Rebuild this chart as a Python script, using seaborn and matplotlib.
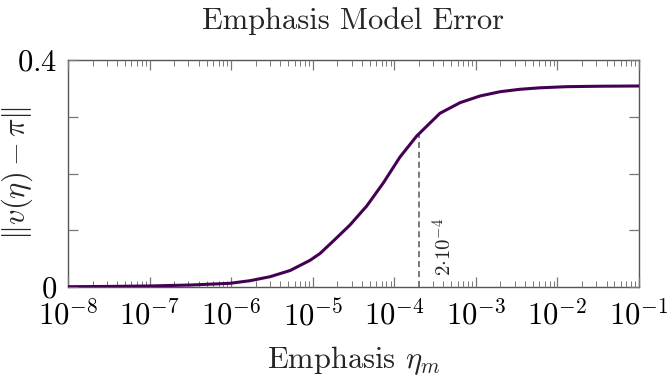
import numpy as np
import pandas as pd
import matplotlib
matplotlib.use("Agg")
import matplotlib.pyplot as plt
import seaborn as sns
from matplotlib.ticker import LogLocator, FixedLocator, NullFormatter

# Data (log10 of emphasis, error value)
log_eta = [-8.0, -7.5, -7.0, -6.5, -6.014, -5.769, -5.524, -5.278, -5.033, -4.911,
           -4.748, -4.543, -4.338, -4.135, -3.930, -3.725, -3.440, -3.194,
           -2.949, -2.704, -2.459, -2.214, -1.886, -1.478, -1.0]
error = [0.0005, 0.0010, 0.0018, 0.0035, 0.0065, 0.0111, 0.0181, 0.0290, 0.0470, 0.0590,
         0.0810, 0.1093, 0.1427, 0.1833, 0.2291, 0.2661, 0.3061, 0.3248,
         0.3366, 0.3441, 0.3484, 0.3510, 0.3530, 0.3538, 0.3542]
marker_eta = 2e-4
marker_val = 0.270
x_ticks = [1e-8, 1e-7, 1e-6, 1e-5, 1e-4, 1e-3, 1e-2, 1e-1]
x_labels = ["$10^{-8}$", "$10^{-7}$", "$10^{-6}$", "$10^{-5}$", "$10^{-4}$",
            "$10^{-3}$", "$10^{-2}$", "$10^{-1}$"]
y_ticks = [0, 0.1, 0.2, 0.3, 0.4]
y_labels = ["$0$", "", "", "", "$0.4$"]

df = pd.DataFrame({"eta": [10 ** v for v in log_eta], "err": error})

sns.set_theme(style="ticks")
plt.rcParams.update({
    "font.family": ["cmr10", "DejaVu Serif"],
    "mathtext.fontset": "cm",
    "axes.formatter.use_mathtext": True,
    "axes.axisbelow": False,
})

fig = plt.figure(figsize=(6.69, 3.79), dpi=100)
ax = fig.add_axes([68 / 669, 1 - 287 / 379, (639 - 68) / 669, (287 - 60) / 379])

sns.lineplot(data=df, x="eta", y="err", ax=ax, color="#440154", linewidth=2.2, zorder=3)
ax.set_xscale("log")
ax.set_xlim(1e-8, 1e-1)
ax.set_ylim(0, 0.4)

ax.plot([marker_eta, marker_eta], [0, marker_val], color="#555555",
        linestyle=(0, (4, 2.5)), linewidth=1.1, zorder=2)
ax.text(marker_eta * 1.42, 0.02, r"$2{\cdot}10^{-4}$", rotation=90,
        ha="left", va="bottom", fontsize=15)

ax.xaxis.set_major_locator(FixedLocator(x_ticks))
ax.set_xticklabels(x_labels)
ax.xaxis.set_minor_locator(LogLocator(base=10, subs=np.arange(2, 10), numticks=100))
ax.xaxis.set_minor_formatter(NullFormatter())
ax.set_yticks(y_ticks)
ax.set_yticklabels(y_labels)

for s in ax.spines.values():
    s.set_visible(True)
    s.set_color("#555555")
    s.set_linewidth(1.0)
ax.tick_params(which="both", direction="in", top=True, right=True, bottom=True, left=True,
               color="#777777", labelcolor="black", labelsize=22)
ax.tick_params(which="major", length=7.5, width=0.9)
ax.tick_params(which="minor", length=4.3, width=0.7)
ax.tick_params(axis="x", pad=9)
ax.tick_params(axis="y", pad=8)

ax.set_xlabel(r"Emphasis $\eta_m$", fontsize=22, labelpad=9)
ax.set_ylabel(r"$\|v(\eta)-\pi\|$", fontsize=22)
ax.yaxis.set_label_coords(-0.058, 0.5)
ax.set_title("Emphasis Model Error", fontsize=22, pad=22)
ax.grid(False)

fig.savefig("out.png", dpi=100)
